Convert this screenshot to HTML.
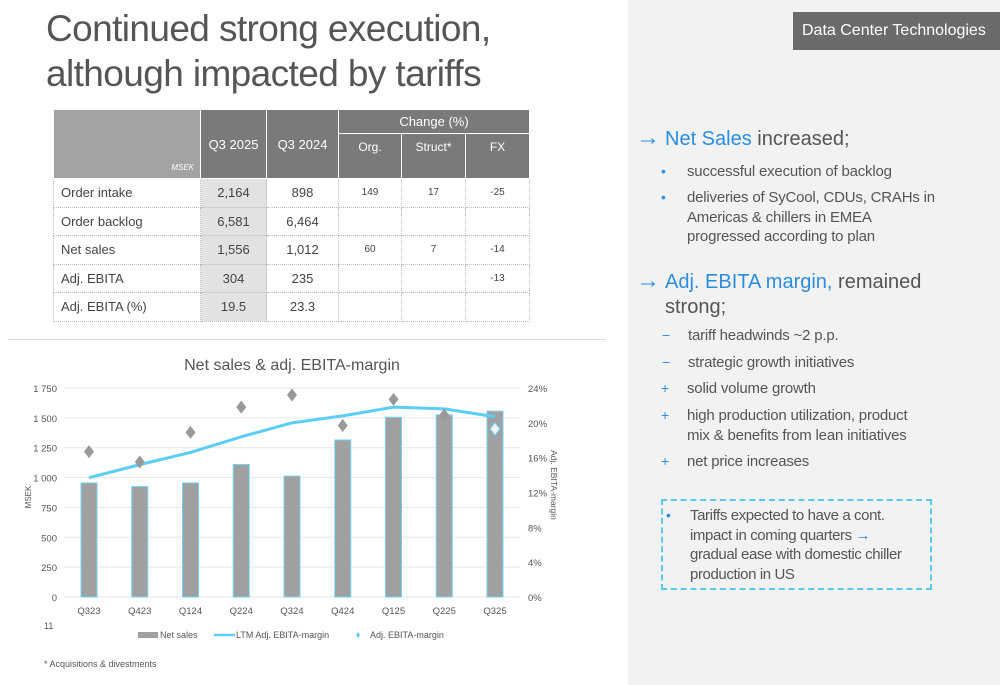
<!DOCTYPE html>
<html><head><meta charset="utf-8"><style>
*{margin:0;padding:0;box-sizing:border-box}
body{width:1000px;height:685px;position:relative;background:#fff;font-family:"Liberation Sans",sans-serif;color:#444;overflow:hidden}
.a{position:absolute}
#title{left:46px;top:6px;font-size:37px;line-height:45px;color:#555;letter-spacing:-0.6px}
#side{left:628px;top:0;width:372px;height:685px;background:#f2f2f2}
#tag{left:793px;top:12px;width:207px;height:38px;background:#6b6b6b;color:#fff;font-size:16px;line-height:38px;padding-left:9px}
table{position:absolute;left:53px;top:109px;border-collapse:collapse;font-size:13px}
td,th{border:1px dotted #bbb;height:28.5px;text-align:center;font-weight:normal}
th{background:#7a7a7a;color:#fff;border:1px solid #fff}
td.l{text-align:left;padding-left:7px}
td.h{background:#e2e2e2}
td.s{font-size:10px}
.h2{font-size:20px;color:#555;line-height:25px}
.bl{color:#2b8de0}
.li{font-size:15px;color:#555;line-height:19.5px;letter-spacing:-0.2px;white-space:nowrap}
.mk{position:absolute;left:-26px;color:#2b8de0;font-size:14px}
.ar{font-size:24px;display:inline-block;width:29px}
</style></head><body>
<div class="a" id="side"></div>
<div class="a" id="title">Continued strong execution,<br>although impacted by tariffs</div>
<div class="a" id="tag">Data Center Technologies</div>
<table>
<tr style="height:24px"><th rowspan="2" style="width:147px;background:#a3a3a3;text-align:right;vertical-align:bottom;font-size:8px;font-style:italic;padding:0 6px 6px 0">MSEK</th><th rowspan="2" style="width:66px;font-size:13px">Q3 2025</th><th rowspan="2" style="width:72px;font-size:13px">Q3 2024</th><th colspan="3" style="height:24px">Change (%)</th></tr>
<tr style="height:45px"><th style="width:63px;vertical-align:top;padding-top:6px;font-size:12px">Org.</th><th style="width:64px;vertical-align:top;padding-top:6px;font-size:12px">Struct*</th><th style="width:64px;vertical-align:top;padding-top:6px;font-size:12px">FX</th></tr>
<tr><td class="l">Order intake</td><td class="h">2,164</td><td>898</td><td class="s">149</td><td class="s">17</td><td class="s">-25</td></tr>
<tr><td class="l">Order backlog</td><td class="h">6,581</td><td>6,464</td><td></td><td></td><td></td></tr>
<tr><td class="l">Net sales</td><td class="h">1,556</td><td>1,012</td><td class="s">60</td><td class="s">7</td><td class="s">-14</td></tr>
<tr><td class="l">Adj. EBITA</td><td class="h">304</td><td>235</td><td></td><td></td><td class="s">-13</td></tr>
<tr><td class="l">Adj. EBITA (%)</td><td class="h">19.5</td><td>23.3</td><td></td><td></td><td></td></tr>
</table>
<div class="a" style="left:8px;top:339px;width:598px;height:1px;background:#ddd"></div>

<div class="a h2" style="left:636px;top:125px"><span class="bl"><span class="ar">→</span>Net Sales</span> increased;</div>
<div class="a li" style="left:687px;top:162px"><span class="mk">•</span>successful execution of backlog</div>
<div class="a li" style="left:687px;top:188px"><span class="mk">•</span>deliveries of SyCool, CDUs, CRAHs in<br>Americas &amp; chillers in EMEA<br>progressed according to plan</div>
<div class="a h2" style="left:636px;top:268px;width:340px"><span class="bl"><span class="ar">→</span>Adj. EBITA margin,</span> remained<br><span style="padding-left:29px">strong;</span></div>
<div class="a li" style="left:688px;top:326px"><span class="mk">−</span>tariff headwinds ~2 p.p.</div>
<div class="a li" style="left:688px;top:353px"><span class="mk">−</span>strategic growth initiatives</div>
<div class="a li" style="left:687px;top:379px"><span class="mk">+</span>solid volume growth</div>
<div class="a li" style="left:687px;top:406px"><span class="mk">+</span>high production utilization, product<br>mix &amp; benefits from lean initiatives</div>
<div class="a li" style="left:687px;top:452px"><span class="mk">+</span>net price increases</div>
<div class="a li" style="left:661px;top:499px;width:271px;height:91px;border:2px dashed #5cc8ee;padding:5px 0 0 27px;letter-spacing:-0.4px"><span class="mk" style="left:3px;top:5px">•</span>Tariffs expected to have a cont.<br>impact in coming quarters <span class="bl">→</span><br>gradual ease with domestic chiller<br>production in US</div>

<svg class="a" style="left:0;top:340px" width="610" height="345" id="chart"></svg>
<script>
const categories=["Q323","Q423","Q124","Q224","Q324","Q424","Q125","Q225","Q325"];
const netSales=[955,925,955,1110,1012,1315,1505,1525,1556];
const ltmMargin=[13.7,15.2,16.6,18.4,20.0,20.8,21.8,21.6,20.7];
const adjMargin=[16.7,15.5,18.9,21.8,23.2,19.7,22.7,20.9,19.3];
const leftTicks=[0,250,500,750,1000,1250,1500,1750];
const rightTicks=[0,4,8,12,16,20,24];
const NS="http://www.w3.org/2000/svg",svg=document.getElementById('chart');
const y0=257,y1=48,xL=64,xR=520;
const yS=v=>y0-(v/1750)*(y0-y1), yP=v=>y0-(v/24)*(y0-y1);
const xC=i=>89+i*(495-89)/(categories.length-1);
function mk(t,a,txt){const e=document.createElementNS(NS,t);for(const k in a)e.setAttribute(k,a[k]);if(txt!=null)e.textContent=txt;svg.appendChild(e);return e;}
let e=mk('text',{x:292,y:30,'text-anchor':'middle','font-size':16,fill:'#555'},'Net sales & adj. EBITA-margin');


leftTicks.forEach(v=>{let g=mk('line',{x1:xL,x2:xR,y1:yS(v),y2:yS(v),stroke:'#e6e6e6'});


let t=mk('text',{x:57,y:yS(v)+4,'text-anchor':'end','font-size':9.5,fill:'#555'},v>=1000?String(v).replace(/^(\d)/,'$1 '):v);

});
rightTicks.forEach(v=>{let t=mk('text',{x:528,y:yP(v)+4,'font-size':9.5,fill:'#555'},v+'%');

});
netSales.forEach((v,i)=>{let b=mk('rect',{x:xC(i)-8,y:yS(v),width:16,height:y0-yS(v),fill:'#a0a0a0',stroke:'#6fd3f5','stroke-width':1});


let t=mk('text',{x:xC(i),y:274,'text-anchor':'middle','font-size':9.5,fill:'#555'},categories[i]);

});
let p=mk('polyline',{points:ltmMargin.map((v,i)=>xC(i)+','+yP(v)).join(' '),fill:'none',stroke:'#5ccdf5','stroke-width':3});


adjMargin.forEach((v,i)=>{const x=xC(i),y=yP(v),last=i===adjMargin.length-1;
let d=mk('polygon',{points:`${x},${y-6.5} ${x+5},${y} ${x},${y+6.5} ${x-5},${y}`,fill:last?'#f4f4f4':'#999',stroke:last?'#5ccdf5':'none'});

});
let yl=mk('text',{transform:'translate(31,157) rotate(-90)','text-anchor':'middle','font-size':8,fill:'#555'},'MSEK');


let yr=mk('text',{transform:'translate(551,145) rotate(90)','text-anchor':'middle','font-size':8.5,fill:'#555'},'Adj. EBITA-margin');


mk('text',{x:44,y:289,'font-size':9,fill:'#555'},'11');
mk('rect',{x:138,y:292,width:20,height:6,fill:'#a0a0a0'});
mk('text',{x:160,y:298,'font-size':9,fill:'#555'},'Net sales');
mk('line',{x1:214,x2:235,y1:295,y2:295,stroke:'#5ccdf5','stroke-width':2.5});
mk('text',{x:236,y:298,'font-size':9,fill:'#555'},'LTM Adj. EBITA-margin');
mk('polygon',{points:'358,292 360,295 358,298 356,295',fill:'#5ccdf5'});
mk('text',{x:370,y:298,'font-size':9,fill:'#555'},'Adj. EBITA-margin');
mk('text',{x:44,y:327,'font-size':9,fill:'#555'},'* Acquisitions & divestments');
</script>
</body></html>
